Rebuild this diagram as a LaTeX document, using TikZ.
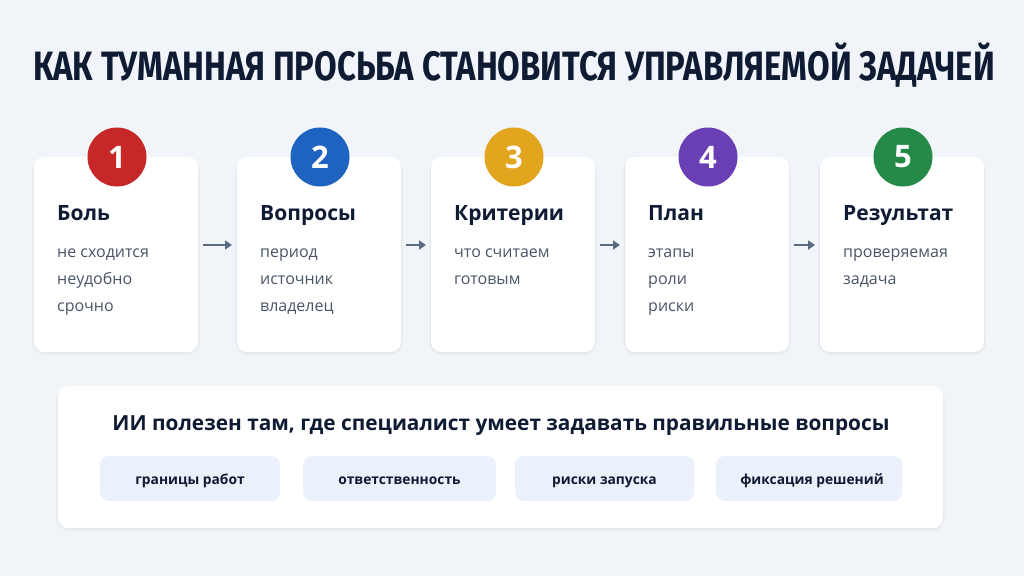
\documentclass[tikz,border=0pt]{standalone}
\usepackage{fontspec}
\setmainfont{Open Sans}
\newfontfamily\titlefont[FakeStretch=0.80]{Fira Sans}
\usetikzlibrary{arrows.meta,calc}
\definecolor{bg}{HTML}{F1F4F9}
\definecolor{ink}{HTML}{0F1A33}
\definecolor{body}{HTML}{4A5568}
\definecolor{arr}{HTML}{5A6B80}
\definecolor{chip}{HTML}{EAF1FB}
\definecolor{c1}{HTML}{C62828}
\definecolor{c2}{HTML}{1E63C0}
\definecolor{c3}{HTML}{E2A51E}
\definecolor{c4}{HTML}{6A3FB5}
\definecolor{c5}{HTML}{258A47}
\tikzset{
  card/.style={fill=white, rounded corners=10pt},
  shade1/.style={fill=black, fill opacity=0.025, rounded corners=12pt},
  badge/.style={circle, minimum size=59pt, inner sep=0pt, text=white, font=\fontsize{31}{31}\selectfont\bfseries},
  ctitle/.style={anchor=base west, inner sep=0pt, text=ink, font=\fontsize{21}{24}\selectfont\bfseries},
  cbody/.style={anchor=north west, inner sep=0pt, text=body, align=left, font=\fontsize{16}{27}\selectfont},
  flow/.style={draw=arr, line width=2pt, -{Triangle[length=7pt,width=9pt]}},
  chipbox/.style={fill=chip, rounded corners=9pt},
  chiptext/.style={text=ink, anchor=base, inner sep=0pt, font=\fontsize{13.8}{16}\selectfont\bfseries},
}
\begin{document}
\begin{tikzpicture}[x=1pt,y=-1pt]
\fill[bg] (0,0) rectangle (1024,576);
\useasboundingbox (0,0) rectangle (1024,576);
% title
\node[text=ink, inner sep=0pt, anchor=base] (title) at (514,80) {\titlefont\bfseries\fontsize{41}{41}\selectfont КАК ТУМАННАЯ ПРОСЬБА СТАНОВИТСЯ УПРАВЛЯЕМОЙ ЗАДАЧЕЙ};
% cards
\foreach \i/\x/\col/\head/\txt in {
  1/34/c1/Боль/{не сходится\\неудобно\\срочно},
  2/237/c2/Вопросы/{период\\источник\\владелец},
  3/431/c3/Критерии/{что считаем\\готовым},
  4/625/c4/План/{этапы\\роли\\риски},
  5/820/c5/Результат/{проверяемая\\задача}}{
  \path[shade1] (\x-2,158) rectangle ++(168,197);
  \path[shade1] (\x-1,158) rectangle ++(166,196);
  \path[card] (\x,157) rectangle ++(164,195);
  \coordinate (k\i w) at (\x,245);
  \coordinate (k\i e) at (\x+164,245);
  \node[badge, fill=\col] (b\i) at (\x+83,157) {\i};
  \node[ctitle] (h\i) at (\x+23,220) {\head};
  \node[cbody] (t\i) at (\x+23,249) {\txt};
}
\foreach \a/\b in {1/2,2/3,3/4,4/5}{
  \draw[flow] ($(k\a e)+(5,0)$) -- ($(k\b w)+(-5,0)$);
}
% bottom panel
\path[shade1] (56,387) rectangle (945,531);
\path[shade1] (57,387) rectangle (944,530);
\path[card] (58,386) rectangle (943,528);
\node[text=ink, font=\fontsize{20.8}{24}\selectfont\bfseries, inner sep=0pt, anchor=base] (msg) at (501,430) {ИИ полезен там, где специалист умеет задавать правильные вопросы};
\path[chipbox] (100,456) rectangle (280,501);
\node[chiptext] (p1) at (190,484) {границы работ};
\path[chipbox] (303,456) rectangle (496,501);
\node[chiptext] (p2) at (399.5,484) {ответственность};
\path[chipbox] (515,456) rectangle (694,501);
\node[chiptext] (p3) at (604.5,484) {риски запуска};
\path[chipbox] (716,456) rectangle (902,501);
\node[chiptext] (p4) at (812,484) {фиксация решений};
\end{tikzpicture}
\end{document}
